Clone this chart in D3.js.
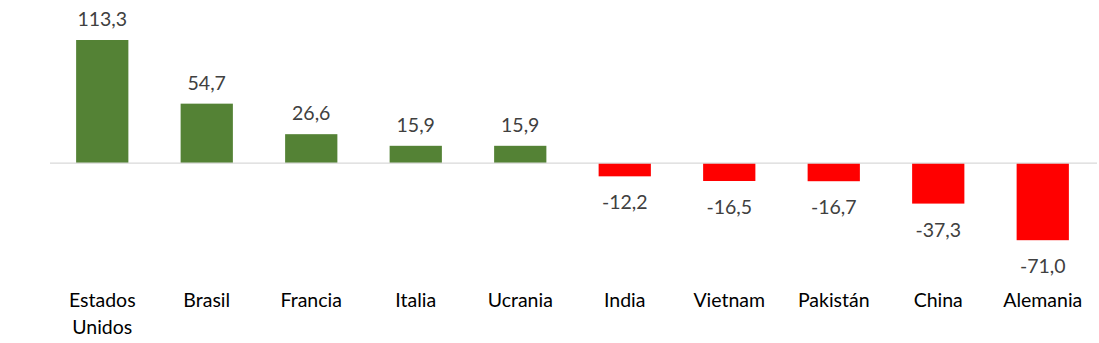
<!DOCTYPE html>
<html><head><meta charset="utf-8">
<script src="https://cdn.jsdelivr.net/npm/d3@7"></script>
<style>body{margin:0;background:#fff}svg{display:block}text{font-family:Lato,"Open Sans",sans-serif}</style>
</head><body><svg id="c" width="1099" height="343"></svg>
<script>
const categories = [["Estados","Unidos"],["Brasil"],["Francia"],["Italia"],["Ucrania"],["India"],["Vietnam"],["Pakistán"],["China"],["Alemania"]];
const values = [113.3, 54.7, 26.6, 15.9, 15.9, -12.2, -16.5, -16.7, -37.3, -71.0];

const svg = d3.select("#c");
const x = d3.scaleBand().domain(d3.range(values.length)).range([50, 1095]).paddingInner(0.5).paddingOuter(0.25);
const y = d3.scaleLinear().domain([-71, 113.3]).range([240.2, 40]);
const fmt = v => v.toFixed(1).replace(".", ",");

svg.selectAll("rect").data(values).join("rect")
  .attr("x", (d,i) => x(i))
  .attr("width", x.bandwidth())
  .attr("y", d => y(Math.max(0,d)))
  .attr("height", d => Math.abs(y(d) - y(0)))
  .attr("fill", d => d >= 0 ? "#548235" : "#FF0000");

svg.append("line").attr("x1", 50).attr("x2", 1097).attr("y1", y(0)).attr("y2", y(0))
  .attr("stroke", "#d9d9d9").attr("stroke-width", 1.3);

svg.selectAll("text.v").data(values).join("text").attr("class","v")
  .attr("x", (d,i) => x(i) + x.bandwidth()/2)
  .attr("y", d => d >= 0 ? y(d) - 14 : y(d) + 33)
  .attr("text-anchor", "middle").attr("font-size", 19.5).attr("fill", "#404040")
  .text(fmt);

const cat = svg.selectAll("text.c").data(categories).join("text").attr("class","c")
  .attr("text-anchor", "middle").attr("font-size", 19.5).attr("fill", "#000");
cat.each(function(d,i){
  const t = d3.select(this);
  d.forEach((s,j) => t.append("tspan").attr("x", x(i) + x.bandwidth()/2).attr("y", 307 + j*27).text(s));
});
</script></body></html>
